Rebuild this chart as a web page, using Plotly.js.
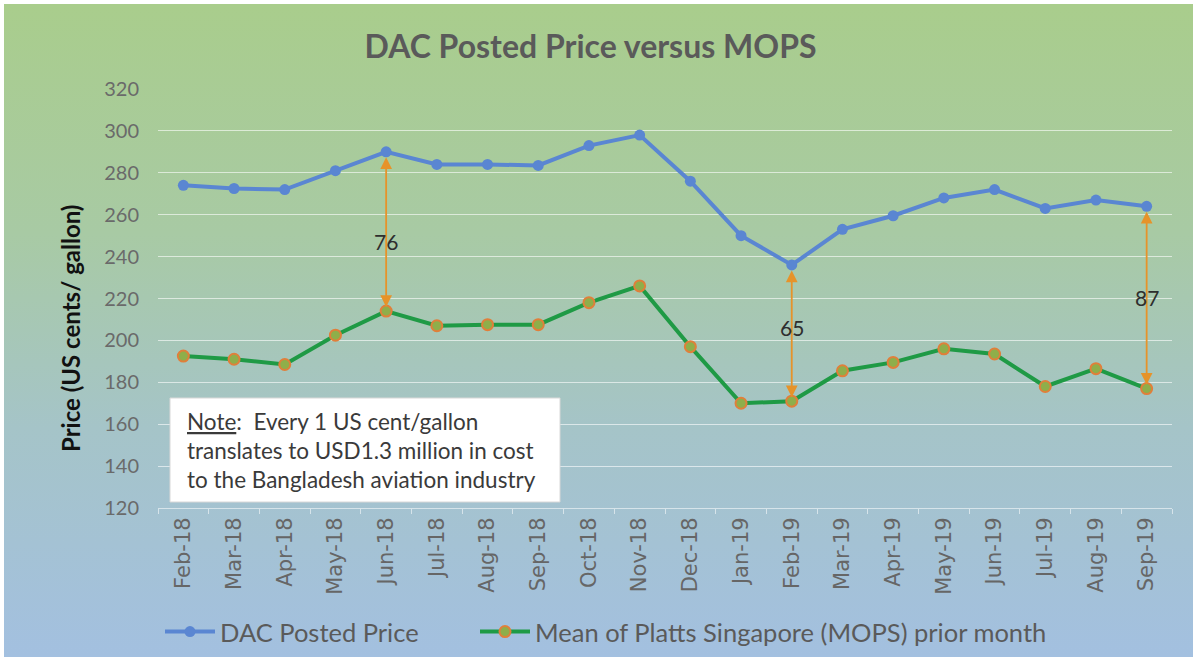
<!DOCTYPE html>
<html>
<head>
<meta charset="utf-8">
<script src="https://cdn.plot.ly/plotly-3.0.1.min.js"></script>
<style>
html,body{margin:0;padding:0;background:#fff;}
#wrap{position:absolute;left:4px;top:4px;width:1189px;height:653px;
 background:linear-gradient(to bottom,#a9cd8c 0%,#a8caa4 35%,#a5c4c8 65%,#a3c0e0 100%);}
#chart{position:absolute;left:0;top:0;width:1193px;height:657px;}
</style>
</head>
<body>
<div id="wrap"></div>
<div id="chart"></div>
<script>
const categories = ["Feb-18","Mar-18","Apr-18","May-18","Jun-18","Jul-18","Aug-18","Sep-18","Oct-18","Nov-18","Dec-18","Jan-19","Feb-19","Mar-19","Apr-19","May-19","Jun-19","Jul-19","Aug-19","Sep-19"];
const dacPrice = [274,272.5,272,281,290,284,284,283.5,293,298,276,250,236,253,259.5,268,272,263,267,264];
const mopsPrice = [192.5,191,188.5,202.5,214,207,207.5,207.5,218,226,197,170,171,185.5,189.5,196,193.5,178,186.5,177];
const gapMonths = ["Jun-18","Feb-19","Sep-19"];
const yTicks = [120,140,160,180,200,220,240,260,280,300,320];
const noteLines = ["<u>Note</u>:  Every 1 US cent/gallon","translates to USD1.3 million in cost","to the Bangladesh aviation industry"];
const yTitle = "Price (US cents/ gallon)";

const FONT = "Lato, 'Open Sans', sans-serif";
const traces = [
  {x: categories, y: dacPrice, type:'scatter', mode:'lines+markers', name:'DAC Posted Price',
   line:{color:'#5a86d2', width:4}, marker:{color:'#5a86d2', size:11}, legend:'legend'},
  {x: categories, y: mopsPrice, type:'scatter', mode:'lines+markers', name:'Mean of Platts Singapore (MOPS) prior month',
   line:{color:'#1f9a45', width:4}, marker:{color:'#8fae4a', size:11, line:{color:'#e07f3a', width:2}}, legend:'legend2'}
];

const PT = 89, PB = 508, PH = PB - PT, PL = 158, PW = 1172 - 158;
const annotations = [];
gapMonths.forEach(function(m){
  const i = categories.indexOf(m);
  const hi = dacPrice[i], lo = mopsPrice[i];
  annotations.push({x:i, y:lo, ax:i, ay:hi, xref:'x', yref:'y', axref:'x', ayref:'y',
    text:'', showarrow:true, arrowhead:2, startarrowhead:2, arrowside:'end+start',
    arrowsize:1.3, arrowwidth:1.8, arrowcolor:'#e6932a', standoff:4, startstandoff:4});
});
const labelPos = {"Jun-18":241, "Feb-19":327, "Sep-19":297};
gapMonths.forEach(function(m){
  const i = categories.indexOf(m);
  const diff = Math.round(dacPrice[i] - mopsPrice[i]);
  annotations.push({x:i, xref:'x', y:(PB - labelPos[m])/PH, yref:'paper', yanchor:'middle', xanchor:'center',
    text:String(diff), showarrow:false,
    font:{family:FONT, size:21, color:'#2e2e2e'}, bgcolor:'rgba(0,0,0,0)'});
});
const lineY = [421, 450, 479];
noteLines.forEach(function(t, k){
  annotations.push({x:(185-PL)/PW, xref:'paper', xanchor:'left', y:(PB-lineY[k])/PH, yref:'paper', yanchor:'middle',
    text:t, showarrow:false, align:'left', font:{family:FONT, size:22.5, color:'#3a3a3a'}});
});
annotations.push({x:(70-PL)/PW, xref:'paper', y:(PB-329)/PH, yref:'paper', xanchor:'center', yanchor:'middle',
  textangle:-90, text:'<b>'+yTitle+'</b>', showarrow:false, font:{family:FONT, size:24, color:'#111111'}});

const legendBase = {orientation:'h', xref:'container', xanchor:'left', y:1-632/657, yref:'container', yanchor:'middle',
  font:{family:FONT, size:25.5, color:'#5a5a5a'}, bgcolor:'rgba(0,0,0,0)', itemwidth:50};

const layout = {
  width:1193, height:657,
  paper_bgcolor:'rgba(0,0,0,0)', plot_bgcolor:'rgba(0,0,0,0)',
  margin:{l:PL, r:1193-1172, t:PT, b:657-PB},
  title:{text:'<b>DAC Posted Price versus MOPS</b>', x:0.495, xref:'container', xanchor:'center',
    y:1-47/657, yref:'container', yanchor:'middle', font:{family:FONT, size:32, color:'#5a5a5a'}},
  font:{family:FONT},
  xaxis:{type:'category', tickangle:-90, tickfont:{family:"'DejaVu Sans', Verdana, sans-serif", size:21, color:'#666666'},
    showgrid:false, showline:true, linecolor:'rgba(255,255,255,0.55)', linewidth:1,
    ticks:'outside', ticklen:5, tickcolor:'rgba(255,255,255,0.55)', tickson:'boundaries',
    range:[-0.5, categories.length-0.5], fixedrange:true},
  yaxis:{range:[120,320], tickvals:yTicks, ticktext:yTicks.map(String),
    tickfont:{family:FONT, size:20, color:'#6a6a6a'}, ticklabelstandoff:18,
    showgrid:true, gridcolor:'rgba(255,255,255,0.6)', gridwidth:1, zeroline:false,
    showline:false, ticks:''},
  showlegend:true,
  legend:Object.assign({}, legendBase, {x:160/1193}),
  legend2:Object.assign({}, legendBase, {x:475/1193}),
  shapes:[{type:'rect', xref:'paper', yref:'paper', x0:(170-PL)/PW, x1:(560-PL)/PW,
    y0:(PB-502)/PH, y1:(PB-398)/PH, fillcolor:'#ffffff', line:{color:'#d8d8d8', width:1}, layer:'above'}],
  annotations: annotations
};
Plotly.newPlot('chart', traces, layout, {displayModeBar:false, staticPlot:true});
</script>
</body>
</html>
